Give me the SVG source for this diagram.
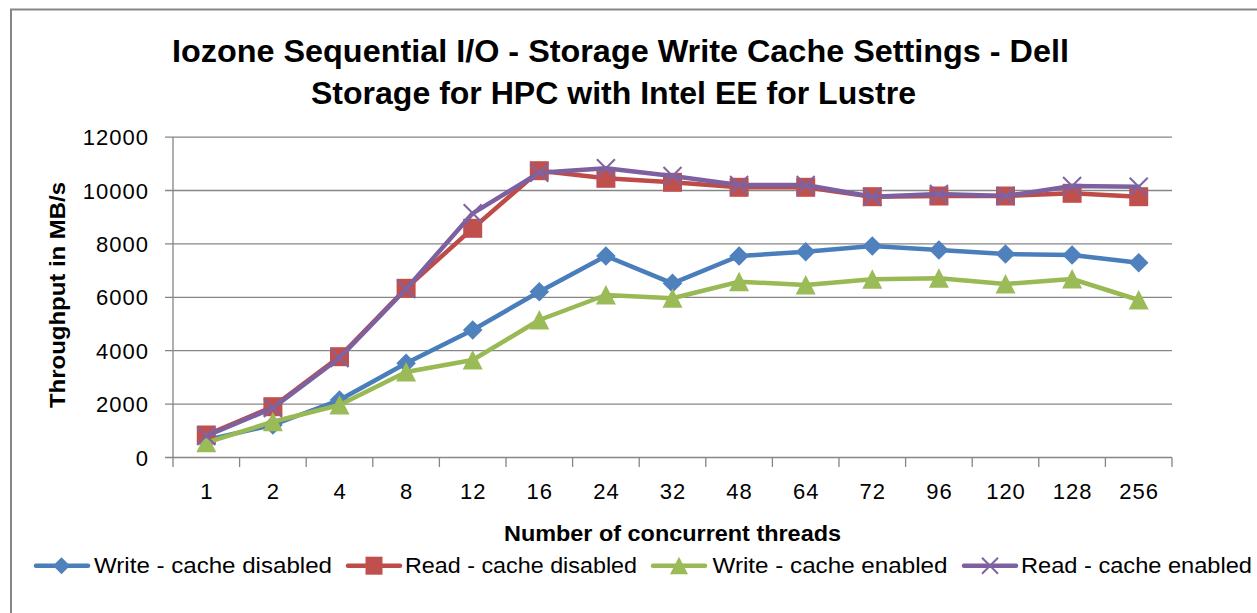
<svg xmlns="http://www.w3.org/2000/svg" width="1257" height="613" viewBox="0 0 1257 613">
<style>
text{font-family:"Liberation Sans",Arial,sans-serif;fill:#000}
.title{font-size:31px;font-weight:bold}
.axt{font-size:22px;font-weight:bold}
.tick{font-size:22px;letter-spacing:1px}
.leg{font-size:22px}
.grid{stroke:#868686;stroke-width:1.3;fill:none}
.ser{fill:none;stroke-width:4.5;stroke-linejoin:round;stroke-linecap:round}
.blue{stroke:#4A7EBB;marker-start:url(#mDia);marker-mid:url(#mDia);marker-end:url(#mDia)}
.red{stroke:#BE4B48;marker-start:url(#mSq);marker-mid:url(#mSq);marker-end:url(#mSq)}
.green{stroke:#98B954;marker-start:url(#mTri);marker-mid:url(#mTri);marker-end:url(#mTri)}
.purple{stroke:#7D60A0;marker-start:url(#mX);marker-mid:url(#mX);marker-end:url(#mX)}
.lblue{stroke:#4A7EBB;marker-mid:url(#mDiaS)}
.lred{stroke:#BE4B48;marker-mid:url(#mSqS)}
.lgreen{stroke:#98B954;marker-mid:url(#mTriS)}
.lpurple{stroke:#7D60A0;marker-mid:url(#mXS)}
</style>
<defs>
<marker id="mDia" markerUnits="userSpaceOnUse" viewBox="-11 -11 22 22" refX="0" refY="0" markerWidth="22" markerHeight="22" overflow="visible"><path d="M0,-9.8 L9.8,0 L0,9.8 L-9.8,0Z" fill="#4F81BD"/></marker>
<marker id="mSq" markerUnits="userSpaceOnUse" viewBox="-11 -11 22 22" refX="0" refY="0" markerWidth="22" markerHeight="22" overflow="visible"><rect x="-9.5" y="-9.5" width="19" height="19" fill="#C0504D"/></marker>
<marker id="mTri" markerUnits="userSpaceOnUse" viewBox="-11 -11 22 22" refX="0" refY="0" markerWidth="22" markerHeight="22" overflow="visible"><path d="M0,-10 L10,9.5 L-10,9.5Z" fill="#9BBB59"/></marker>
<marker id="mX" markerUnits="userSpaceOnUse" viewBox="-11 -11 22 22" refX="0" refY="0" markerWidth="22" markerHeight="22" overflow="visible"><path d="M-9,-9 L9,9 M-9,9 L9,-9" stroke="#8064A2" stroke-width="2" fill="none"/></marker>
<marker id="mDiaS" markerUnits="userSpaceOnUse" viewBox="-11 -11 22 22" refX="0" refY="0" markerWidth="22" markerHeight="22" overflow="visible"><path d="M0,-8.5 L8.5,0 L0,8.5 L-8.5,0Z" fill="#4F81BD"/></marker>
<marker id="mSqS" markerUnits="userSpaceOnUse" viewBox="-11 -11 22 22" refX="0" refY="0" markerWidth="22" markerHeight="22" overflow="visible"><rect x="-8.5" y="-9" width="17" height="18" fill="#C0504D"/></marker>
<marker id="mTriS" markerUnits="userSpaceOnUse" viewBox="-11 -11 22 22" refX="0" refY="0" markerWidth="22" markerHeight="22" overflow="visible"><path d="M0,-9 L9,8.5 L-9,8.5Z" fill="#9BBB59"/></marker>
<marker id="mXS" markerUnits="userSpaceOnUse" viewBox="-11 -11 22 22" refX="0" refY="0" markerWidth="22" markerHeight="22" overflow="visible"><path d="M-8,-8 L8,8 M-8,8 L8,-8" stroke="#8064A2" stroke-width="2" fill="none"/></marker>
</defs>
<rect width="1257" height="613" fill="#fff"/>
<path d="M11,613 V9.5 H1257" fill="none" stroke="#868686" stroke-width="2"/>
<g id="title">
<text class="title" x="172" y="62" textLength="897" lengthAdjust="spacingAndGlyphs">Iozone Sequential I/O - Storage Write Cache Settings - Dell</text>
<text class="title" x="311" y="104" textLength="605" lengthAdjust="spacingAndGlyphs">Storage for HPC with Intel EE for Lustre</text>
</g>
<g id="grid">
<path class="grid" d="M165,137.1H1172M165,190.5H1172M165,243.9H1172M165,297.3H1172M165,350.7H1172M165,404.1H1172M165,457.5H1172"/>
<path class="grid" d="M173,137.1V467M239.6,457.5V467M306.2,457.5V467M372.8,457.5V467M439.4,457.5V467M506,457.5V467M572.6,457.5V467M639.2,457.5V467M705.8,457.5V467M772.4,457.5V467M839,457.5V467M905.6,457.5V467M972.2,457.5V467M1038.8,457.5V467M1105.4,457.5V467M1172,457.5V467"/>
</g>
<g id="y-axis-labels" text-anchor="end">
<text class="tick" x="149" y="145">12000</text>
<text class="tick" x="149" y="198.5">10000</text>
<text class="tick" x="149" y="252">8000</text>
<text class="tick" x="149" y="305.3">6000</text>
<text class="tick" x="149" y="358.7">4000</text>
<text class="tick" x="149" y="412">2000</text>
<text class="tick" x="149" y="465.5">0</text>
</g>
<g id="x-axis-labels" text-anchor="middle">
<text class="tick" x="206.8" y="499">1</text>
<text class="tick" x="273.4" y="499">2</text>
<text class="tick" x="340" y="499">4</text>
<text class="tick" x="406.6" y="499">8</text>
<text class="tick" x="473.2" y="499">12</text>
<text class="tick" x="539.8" y="499">16</text>
<text class="tick" x="606.4" y="499">24</text>
<text class="tick" x="673" y="499">32</text>
<text class="tick" x="739.6" y="499">48</text>
<text class="tick" x="806.2" y="499">64</text>
<text class="tick" x="872.8" y="499">72</text>
<text class="tick" x="939.4" y="499">96</text>
<text class="tick" x="1006" y="499">120</text>
<text class="tick" x="1072.6" y="499">128</text>
<text class="tick" x="1139.2" y="499">256</text>
</g>
<g id="axis-titles">
<text class="axt" x="672.5" y="541" text-anchor="middle" textLength="337" lengthAdjust="spacingAndGlyphs">Number of concurrent threads</text>
<text class="axt" transform="translate(65,295) rotate(-90)" text-anchor="middle" textLength="226" lengthAdjust="spacingAndGlyphs">Throughput in MB/s</text>
</g>
<g id="series">
<polyline id="write-disabled" class="ser blue" points="206.3,440 272.9,425 339.5,400 406.1,363.3 472.7,330 539.3,291.7 605.9,256 672.5,283.3 739.1,256 805.7,251.7 872.3,246 938.9,250 1005.5,254 1072.1,255 1138.7,262.7"/>
<polyline id="read-disabled" class="ser red" points="206.3,435 272.9,406.7 339.5,356.7 406.1,288.3 472.7,228.3 539.3,170.7 605.9,178.3 672.5,182.3 739.1,187.3 805.7,187.3 872.3,196.7 938.9,196 1005.5,196 1072.1,193.3 1138.7,196.7"/>
<polyline id="write-enabled" class="ser green" points="206.3,442.7 272.9,421.7 339.5,405 406.1,372 472.7,360 539.3,320 605.9,295 672.5,298.3 739.1,281.7 805.7,285 872.3,279.3 938.9,278.3 1005.5,284 1072.1,279 1138.7,300"/>
<polyline id="read-enabled" class="ser purple" points="206.3,436 272.9,408 339.5,358 406.1,289 472.7,213.3 539.3,172.7 605.9,168.3 672.5,176 739.1,185 805.7,185 872.3,196.7 938.9,194 1005.5,196 1072.1,186 1138.7,186.7"/>
</g>
<g id="legend">
<g id="leg-write-disabled"><polyline class="ser lblue" points="36,565.7 61.5,565.7 88,565.7"/><text class="leg" x="94" y="573.3" textLength="238" lengthAdjust="spacingAndGlyphs">Write - cache disabled</text></g>
<g id="leg-read-disabled"><polyline class="ser lred" points="348,565.7 374,565.7 400,565.7"/><text class="leg" x="405" y="573.3" textLength="232" lengthAdjust="spacingAndGlyphs">Read - cache disabled</text></g>
<g id="leg-write-enabled"><polyline class="ser lgreen" points="653,565.7 679,565.7 705,565.7"/><text class="leg" x="712.5" y="573.3" textLength="235" lengthAdjust="spacingAndGlyphs">Write - cache enabled</text></g>
<g id="leg-read-enabled"><polyline class="ser lpurple" points="964,565.7 990,565.7 1016,565.7"/><text class="leg" x="1021" y="573.3" textLength="231" lengthAdjust="spacingAndGlyphs">Read - cache enabled</text></g>
</g>
</svg>
